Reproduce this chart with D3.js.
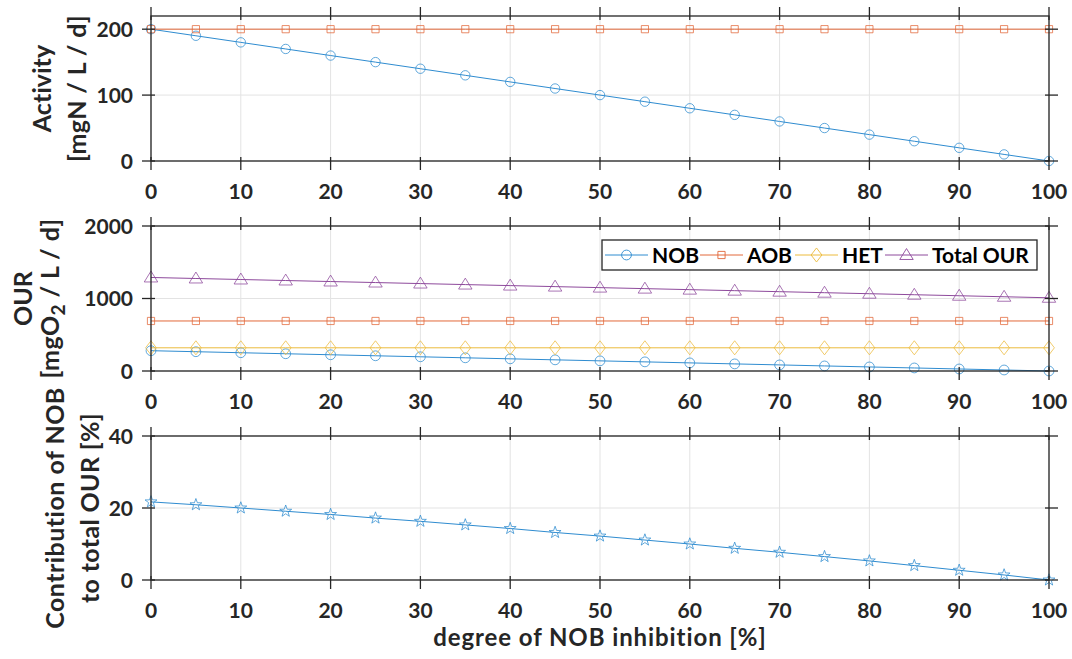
<!DOCTYPE html>
<html>
<head>
<meta charset="utf-8">
<script src="https://cdn.jsdelivr.net/npm/d3@7/dist/d3.min.js"></script>
<style>
  html, body { margin: 0; padding: 0; background: #fff; }
  svg { display: block; }
  text { font-family: Lato, "Open Sans", sans-serif; font-weight: bold; }
</style>
</head>
<body>
<svg id="chart" width="1072" height="659"></svg>
<script>
// ---------------- data ----------------
const inhibition = [0,5,10,15,20,25,30,35,40,45,50,55,60,65,70,75,80,85,90,95,100];
const xTicks = [0,10,20,30,40,50,60,70,80,90,100];

const activityNOB = [200,190,180,170,160,150,140,130,120,110,100,90,80,70,60,50,40,30,20,10,0];
const activityAOB = [200,200,200,200,200,200,200,200,200,200,200,200,200,200,200,200,200,200,200,200,200];
const activityTicks = [0,100,200];

const ourNOB   = [280,266,252,238,224,210,196,182,168,154,140,126,112,98,84,70,56,42,28,14,0];
const ourAOB   = [690,690,690,690,690,690,690,690,690,690,690,690,690,690,690,690,690,690,690,690,690];
const ourHET   = [320,320,320,320,320,320,320,320,320,320,320,320,320,320,320,320,320,320,320,320,320];
const ourTotal = [1290,1276,1262,1248,1234,1220,1206,1192,1178,1164,1150,1136,1122,1108,1094,1080,1066,1052,1038,1024,1010];
const ourTicks = [0,1000,2000];

const contributionNOB = [21.7,20.9,20.0,19.1,18.2,17.2,16.3,15.3,14.3,13.2,12.2,11.1,10.0,8.8,7.7,6.5,5.3,4.0,2.7,1.4,0];
const contributionTicks = [0,20,40];

const legendNames = ["NOB","AOB","HET","Total OUR"];

// ---------------- styles ----------------
const C = { NOB: "#2f8cd0", AOB: "#e2683a", HET: "#ecbb3c", TOT: "#8e4a9c" };
const axisColor = "#262626";
const gridColor = "#e3e3e3";

const svg = d3.select("#chart");
const x = d3.scaleLinear().domain([0, 100]).range([151, 1049]);

// widen a text element to a target length using letter-spacing
function fitWidth(sel, target) {
  const node = sel.node();
  const L = node.getComputedTextLength();
  const n = node.textContent.length;
  if (n > 1 && L < target) sel.attr("letter-spacing", (target - L) / n);
}

function markerPath(type, size) {
  const s = size;
  if (type === "circle") return d3.symbol(d3.symbolCircle, Math.PI * s * s)();
  if (type === "square") return `M${-s},${-s}H${s}V${s}H${-s}Z`;
  if (type === "diamond") return `M0,${-s*1.3}L${s},0L0,${s*1.3}L${-s},0Z`;
  if (type === "triangle") return `M0,${-s*1.15}L${s*1.2},${s*0.8}L${-s*1.2},${s*0.8}Z`;
  if (type === "star") {
    let p = [];
    for (let i = 0; i < 10; i++) {
      const r = i % 2 === 0 ? s * 1.25 : s * 0.5;
      const a = -Math.PI / 2 + i * Math.PI / 5;
      p.push([r * Math.cos(a), r * Math.sin(a)]);
    }
    return "M" + p.map(d => d.join(",")).join("L") + "Z";
  }
}

function panel(cfg) {
  const y = d3.scaleLinear().domain(cfg.domain).range([cfg.bottom, cfg.top]);
  const g = svg.append("g");
  // grid
  g.append("g").selectAll("line").data(xTicks).join("line")
    .attr("x1", d => x(d)).attr("x2", d => x(d))
    .attr("y1", cfg.top).attr("y2", cfg.bottom)
    .attr("stroke", gridColor).attr("stroke-width", 1);
  g.append("g").selectAll("line").data(cfg.ticks).join("line")
    .attr("x1", x(0)).attr("x2", x(100))
    .attr("y1", d => y(d)).attr("y2", d => y(d))
    .attr("stroke", gridColor).attr("stroke-width", 1);

  // series
  cfg.series.forEach(s => {
    const line = d3.line().x((d, i) => x(inhibition[i])).y(d => y(d));
    g.append("path").datum(s.values).attr("d", line)
      .attr("fill", "none").attr("stroke", s.color).attr("stroke-width", 1);
    g.append("g").selectAll("path").data(s.values).join("path")
      .attr("transform", (d, i) => `translate(${x(inhibition[i])},${y(d)})`)
      .attr("d", markerPath(s.marker, s.size))
      .attr("fill", "none").attr("stroke", s.color).attr("stroke-width", 0.9)
      .attr("stroke-opacity", 0.85);
  });

  // axes (box with ticks on all sides, out 9, in 4)
  const ax = g.append("g").attr("stroke", axisColor).attr("stroke-width", 1.3);
  ax.append("rect").attr("x", x(0)).attr("y", cfg.top)
    .attr("width", x(100) - x(0)).attr("height", cfg.bottom - cfg.top).attr("fill", "none");
  xTicks.forEach(t => {
    ax.append("line").attr("x1", x(t)).attr("x2", x(t)).attr("y1", cfg.bottom - 4).attr("y2", cfg.bottom + 9);
    ax.append("line").attr("x1", x(t)).attr("x2", x(t)).attr("y1", cfg.top - 9).attr("y2", cfg.top + 4);
  });
  cfg.ticks.forEach(t => {
    ax.append("line").attr("x1", x(0) - 9).attr("x2", x(0) + 4).attr("y1", y(t)).attr("y2", y(t));
    ax.append("line").attr("x1", x(100) - 4).attr("x2", x(100) + 9).attr("y1", y(t)).attr("y2", y(t));
  });

  // tick labels
  g.append("g").selectAll("text").data(xTicks).join("text")
    .attr("x", d => x(d)).attr("y", cfg.bottom + 38)
    .attr("text-anchor", "middle").attr("font-size", 21).attr("fill", axisColor)
    .text(d => d);
  g.append("g").selectAll("text").data(cfg.ticks).join("text")
    .attr("x", 133).attr("y", d => y(d)).attr("dy", "0.36em")
    .attr("text-anchor", "end").attr("font-size", 21).attr("fill", axisColor)
    .text(d => d);

  // y label lines
  const cy = (cfg.top + cfg.bottom) / 2;
  cfg.labels.forEach(l => {
    const t = g.append("text")
      .attr("transform", `translate(${l.x},${cy}) rotate(-90)`)
      .attr("text-anchor", "middle").attr("font-size", 25).attr("fill", axisColor);
    l.parts.forEach(p => {
      const ts = t.append("tspan").text(p.text);
      if (p.sub) ts.attr("font-size", 19).attr("dy", 6);
      if (p.after) ts.attr("dy", -6);
    });
    if (l.len) fitWidth(t, l.len);
  });
  return y;
}

panel({
  top: 16, bottom: 161, domain: [0, 220], ticks: activityTicks,
  series: [
    { values: activityNOB, color: C.NOB, marker: "circle", size: 4.7 },
    { values: activityAOB, color: C.AOB, marker: "square", size: 3.6 }
  ],
  labels: [
    { x: 51, len: 88, parts: [{ text: "Activity" }] },
    { x: 86, len: 147, parts: [{ text: "[mgN / L / d]" }] }
  ]
});

panel({
  top: 226, bottom: 371, domain: [0, 2000], ticks: ourTicks,
  series: [
    { values: ourNOB, color: C.NOB, marker: "circle", size: 4.9 },
    { values: ourAOB, color: C.AOB, marker: "square", size: 3.6 },
    { values: ourHET, color: C.HET, marker: "diamond", size: 5.4 },
    { values: ourTotal, color: C.TOT, marker: "triangle", size: 5.6 }
  ],
  labels: [
    { x: 32, len: 50, parts: [{ text: "OUR" }] },
    { x: 59, len: 160, parts: [{ text: "[mgO" }, { text: "2", sub: true }, { text: " / L / d]", after: true }] }
  ]
});

panel({
  top: 436, bottom: 580, domain: [0, 40], ticks: contributionTicks,
  series: [
    { values: contributionNOB, color: C.NOB, marker: "star", size: 5 }
  ],
  labels: [
    { x: 64, len: 242, parts: [{ text: "Contribution of NOB" }] },
    { x: 99, len: 190, parts: [{ text: "to total OUR [%]" }] }
  ]
});

// x label
const xl = svg.append("text").attr("x", 600).attr("y", 646)
  .attr("text-anchor", "middle").attr("font-size", 24).attr("fill", axisColor)
  .text("degree of NOB inhibition [%]");
fitWidth(xl, 334);

// legend
const legItems = [
  { name: legendNames[0], color: C.NOB, marker: "circle", size: 4.9, lx: 605 },
  { name: legendNames[1], color: C.AOB, marker: "square", size: 3.6, lx: 700 },
  { name: legendNames[2], color: C.HET, marker: "diamond", size: 5.4, lx: 795 },
  { name: legendNames[3], color: C.TOT, marker: "triangle", size: 5.6, lx: 885 }
];
const leg = svg.append("g");
leg.append("rect").attr("x", 602).attr("y", 240).attr("width", 435).attr("height", 30)
  .attr("fill", "#fff").attr("stroke", axisColor).attr("stroke-width", 1.3);
legItems.forEach(it => {
  leg.append("line").attr("x1", it.lx).attr("x2", it.lx + 43).attr("y1", 255).attr("y2", 255)
    .attr("stroke", it.color).attr("stroke-width", 1);
  leg.append("path").attr("transform", `translate(${it.lx + 21.5},255)`)
    .attr("d", markerPath(it.marker, it.size))
    .attr("fill", "none").attr("stroke", it.color).attr("stroke-width", 0.9);
  leg.append("text").attr("x", it.lx + 47).attr("y", 263).attr("font-size", 21).attr("fill", "#000")
    .text(it.name);
});
</script>
</body>
</html>
